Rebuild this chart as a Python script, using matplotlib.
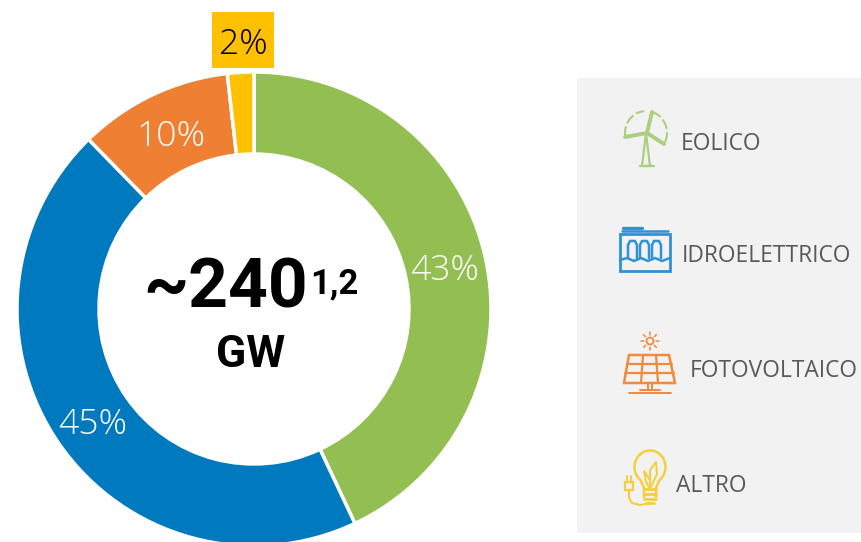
import numpy as np
import matplotlib
matplotlib.use('Agg')
import matplotlib.pyplot as plt
from matplotlib.patches import Rectangle, Circle, Arc, Polygon

# ---- data ----
shares = [43, 44.7, 10.5, 1.8]
share_labels = ['43%', '45%', '10%', '2%']
colors = ['#92BE52', '#0079BF', '#EE7F33', '#FFC000']
legend_labels = ['EOLICO', 'IDROELETTRICO', 'FOTOVOLTAICO', 'ALTRO']

W, H = 861, 542
fig = plt.figure(figsize=(W / 100, H / 100), dpi=100)

# pixel axes, y goes down like in the picture
ax = fig.add_axes([0, 0, 1, 1])
ax.set_xlim(0, W)
ax.set_ylim(H, 0)
ax.axis('off')

# legend panel
ax.add_patch(Rectangle((577, 78), 284, 455, fc='#F2F2F2', ec='none'))

# donut, axes span is 1 unit = 237 px
R = 237
pie_ax = fig.add_axes([(254 - 240) / W, 1 - (309 + 240) / H, 480 / W, 480 / H])
wedges, _ = pie_ax.pie(shares, colors=colors, startangle=90, counterclock=False, radius=1,
                       wedgeprops=dict(width=82 / R, edgecolor='white', linewidth=2.5))
pie_ax.set_xlim(-240 / R, 240 / R)
pie_ax.set_ylim(-240 / R, 240 / R)
pie_ax.patch.set_alpha(0)

# overlay for text and icons
top = fig.add_axes([0, 0, 1, 1], zorder=5)
top.set_xlim(0, W)
top.set_ylim(H, 0)
top.axis('off')

top.add_patch(Rectangle((212, 12), 62, 56, fc='#FFC000', ec='none'))

label_pos = [(445, 271), (93, 425), (171, 137), (243, 45)]
label_col = ['white', 'white', 'white', 'black']
for txt, (x, y), c in zip(share_labels, label_pos, label_col):
    top.text(x, y, txt, color=c, fontsize=25.5, family='Open Sans', fontweight='light', ha='center', va='center')

top.text(143, 289, '~240', fontsize=50, family='Roboto', fontweight='bold', ha='left', va='center')
top.text(310, 284, '1,2', fontsize=25, family='Roboto', fontweight='bold', ha='left', va='center')
top.text(251, 355, 'GW', fontsize=32, family='Roboto', fontweight='bold', ha='center', va='center')

legend_x = [681, 682, 690, 676]
legend_y = [144, 256, 371, 486]
for txt, x, y in zip(legend_labels, legend_x, legend_y):
    top.text(x, y, txt, color='#595959', fontsize=16.4, family='Open Sans', ha='left', va='center')


def ln(xs, ys, c, lw=1.4):
    top.plot(xs, ys, color=c, lw=lw, solid_capstyle='round')


# wind turbine
g = '#A9CF7F'
ln([642, 646, 650, 642], [166, 133, 166, 166], g, 1.6)
ln([640, 654], [166, 166], g, 1.6)
ln([647, 652], [133, 112], g, 2.8)
ln([647, 625], [133, 137], g, 2.8)
ln([647, 664], [133, 144], g, 2.8)
top.add_patch(Arc((646, 133), 42, 44, theta1=170, theta2=265, ec=g, lw=1.5, ls=(0, (5, 1.5))))
top.add_patch(Arc((646, 133), 42, 44, theta1=285, theta2=395, ec=g, lw=1.5, ls=(0, (5, 1.5))))

# hydro plant
b = '#2E92D6'
top.add_patch(Rectangle((620, 234), 50, 37, fc='none', ec=b, lw=2))
ln([622, 668], [231, 231], b, 1.8)
ln([623, 642], [228, 228], b, 2.4)
for x0 in [628, 640, 652]:
    ln([x0, x0, x0 + 2, x0 + 7, x0 + 9, x0 + 9], [258, 245, 241, 241, 245, 258], b, 1.8)
xs = [620, 627, 634, 641, 648, 655, 662, 670]
ln(xs, [260, 258, 261, 258, 261, 258, 261, 258], b, 1.8)

# solar panel
o = '#F08A3C'
top.add_patch(Polygon([(629, 355), (669, 355), (675, 383), (624, 383)], fc='none', ec=o, lw=1.8))
ln([627, 672], [364, 364], o, 1.6)
ln([625, 674], [373, 373], o, 1.6)
ln([643, 641], [355, 383], o, 1.6)
ln([656, 658], [355, 383], o, 1.6)
ln([648, 648], [383, 390], o)
ln([652, 652], [383, 390], o)
ln([640, 660], [390, 390], o)
ln([629, 671], [393, 393], o)
top.add_patch(Circle((650, 341), 3.5, fc='none', ec=o, lw=1.3))
for a in np.arange(0, 360, 45):
    ca, sa = np.cos(np.radians(a)), np.sin(np.radians(a))
    ln([650 + 6 * ca, 650 + 9 * ca], [341 + 6 * sa, 341 + 9 * sa], o, 1.1)

# light bulb
y_c = '#F5CF3A'
top.add_patch(Arc((650, 467), 31, 33, theta1=125, theta2=55, ec=y_c, lw=1.8))
ln([641, 644, 644], [481, 488, 497], y_c, 1.8)
ln([659, 656, 656], [481, 488, 497], y_c, 1.8)
for yy in [489, 494, 499]:
    ln([644, 656], [yy, yy], y_c, 2)
ln([646, 654], [503, 503], y_c, 2)
ln([650, 650, 656, 657, 650], [489, 470, 462, 474, 489], y_c, 1.4)
ln([650, 646, 644, 650], [489, 482, 471, 480], y_c, 1.4)
top.add_patch(Rectangle((625, 482), 8, 8, fc='none', ec=y_c, lw=1.6))
ln([627, 627], [476, 482], y_c, 1.4)
ln([631, 631], [476, 482], y_c, 1.4)
ln([629, 629, 632, 640, 650], [490, 498, 503, 505, 503], y_c, 1.5)

fig.savefig('out.png', dpi=100, facecolor='white')
